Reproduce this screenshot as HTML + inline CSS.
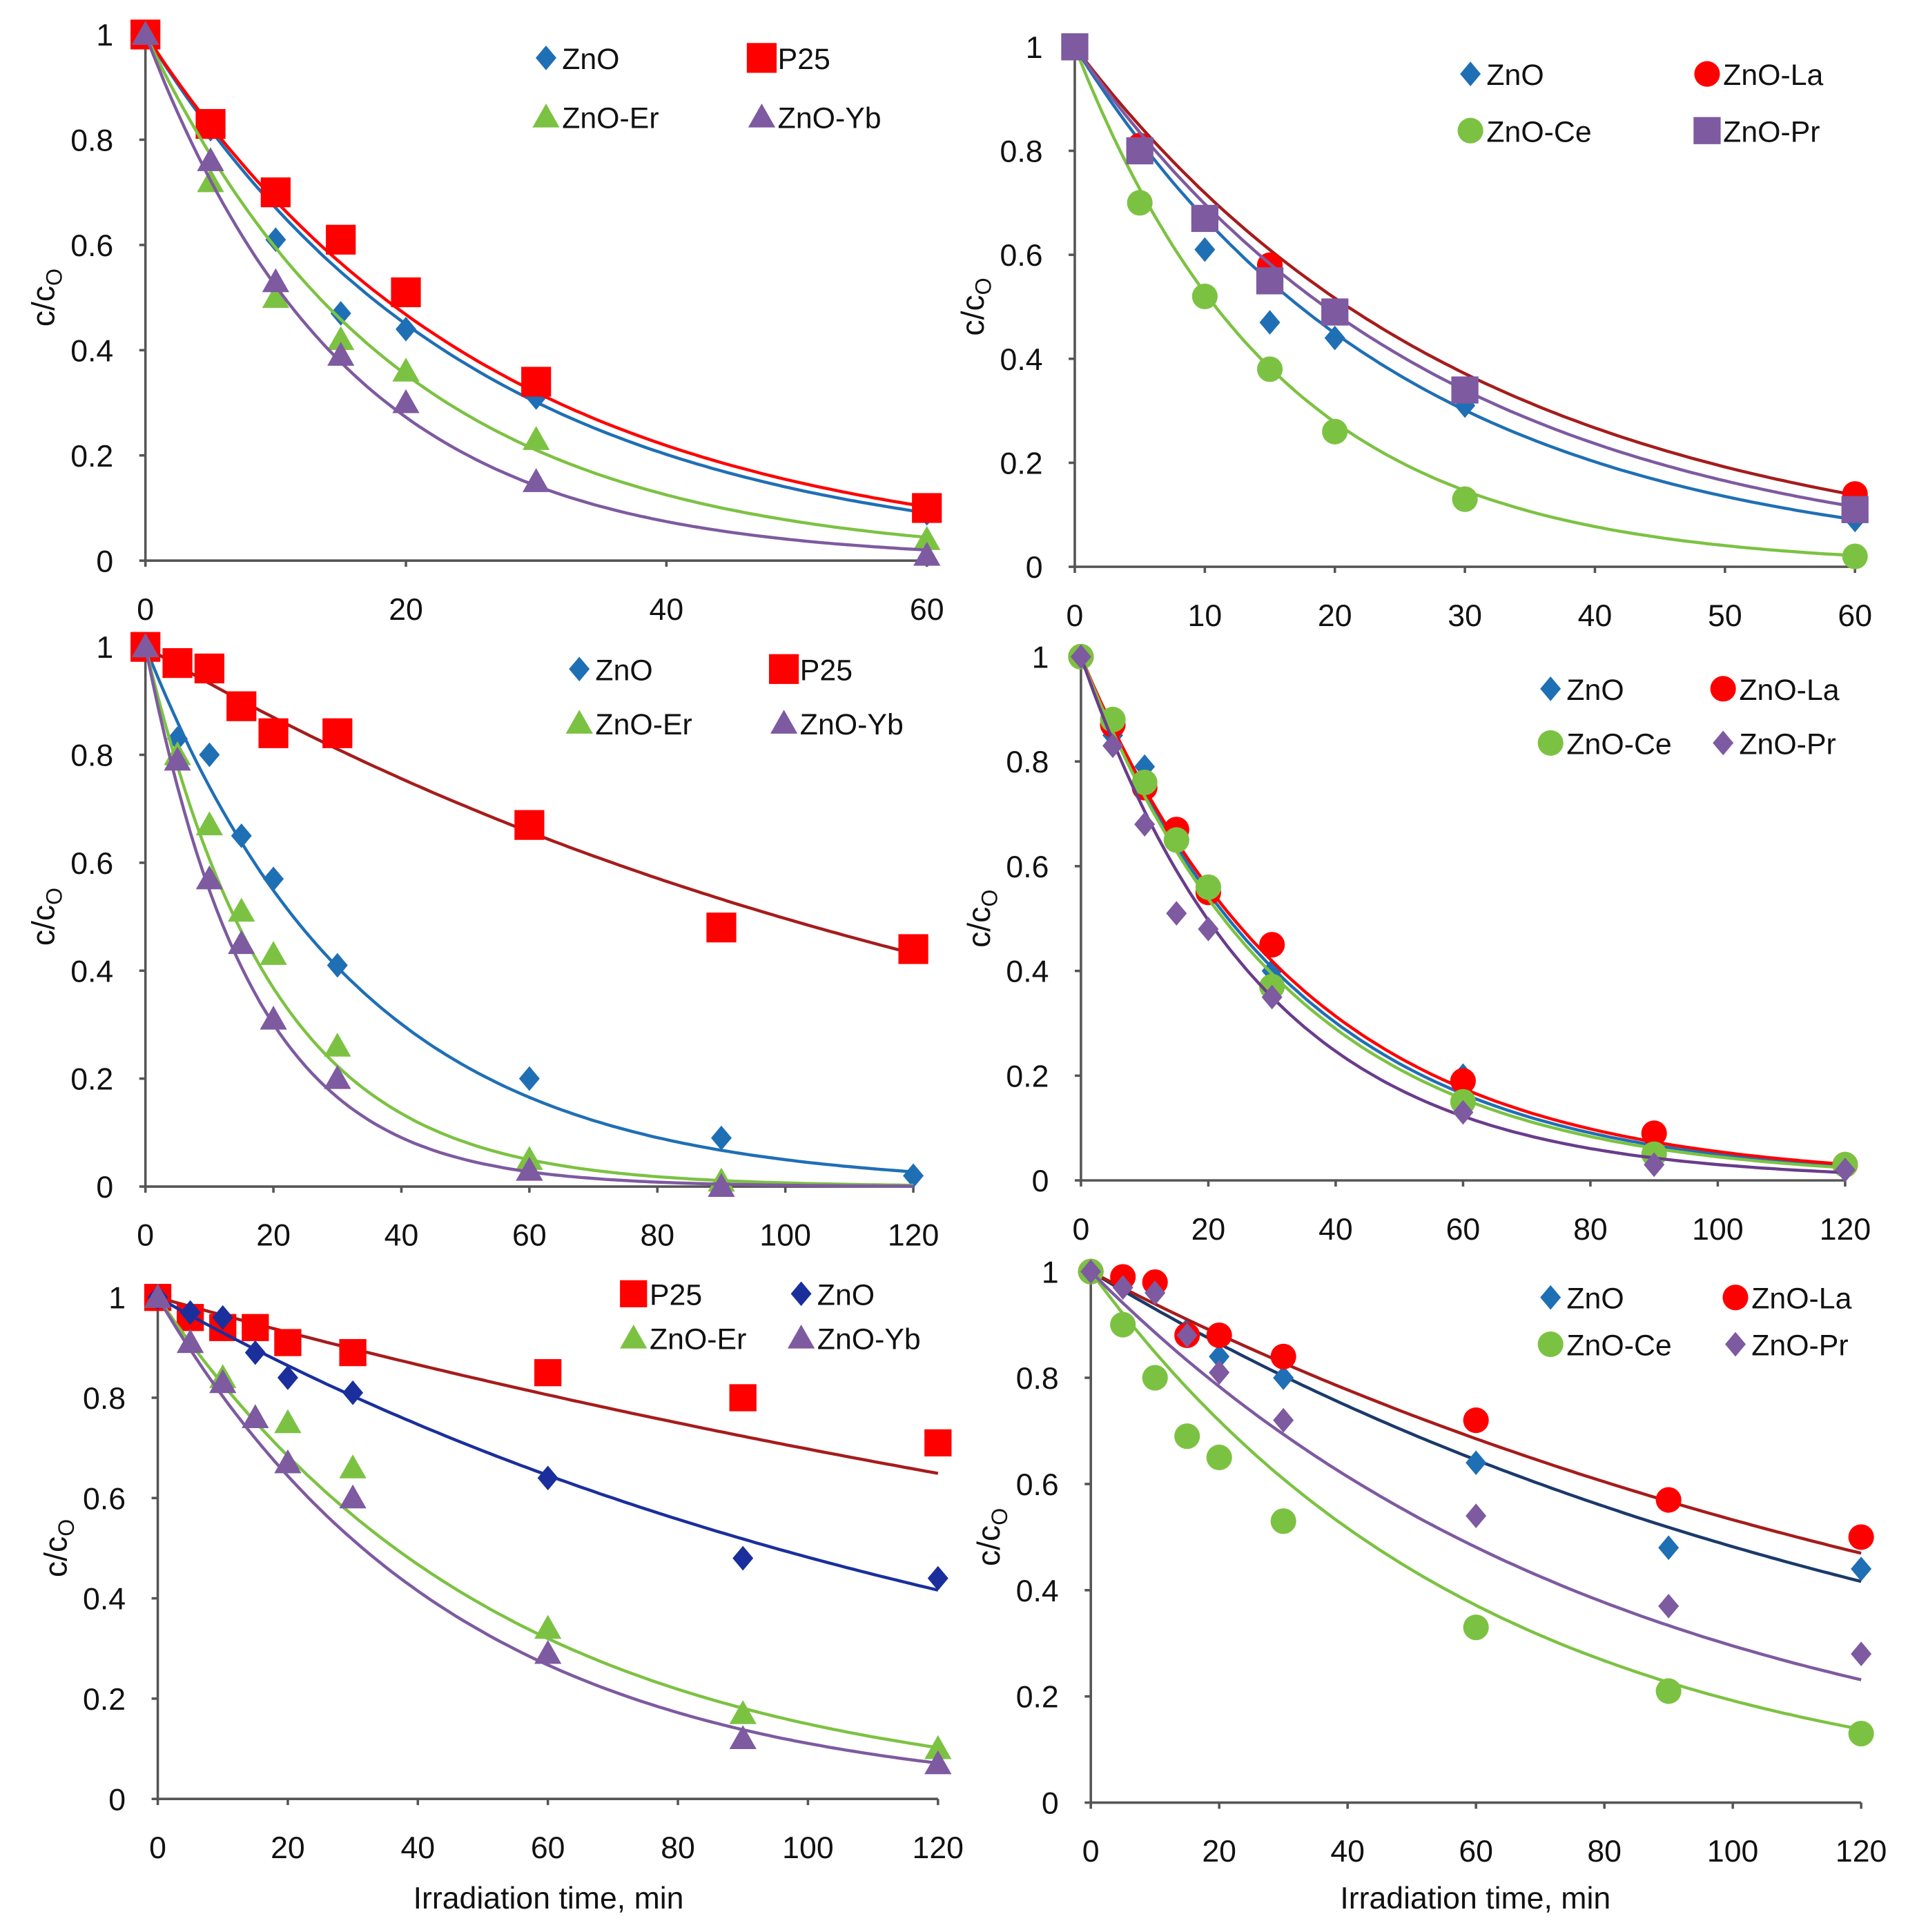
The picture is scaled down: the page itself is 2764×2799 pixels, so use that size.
<!DOCTYPE html>
<html><head><meta charset="utf-8"><style>
html,body{margin:0;padding:0;background:#fff;}
svg{display:block;font-family:"Liberation Sans",sans-serif;}
</style></head><body>
<svg id="chart" width="2764" height="2799" viewBox="0 0 1548 1568" preserveAspectRatio="none" xmlns="http://www.w3.org/2000/svg"></svg>
<script>
// ---- data ----
const t7 = [0,5,10,15,20,30,60];
const t9 = [0,5,10,15,20,30,60,90,120];
const p1ZnO = [1,0.82,0.61,0.47,0.44,0.31,0.09];
const p1P25 = [1,0.83,0.70,0.61,0.51,0.34,0.10];
const p1Er = [1,0.72,0.50,0.42,0.36,0.23,0.04];
const p1Yb = [1,0.76,0.53,0.39,0.30,0.15,0.01];
const p1K = [0.040,0.038,0.052,0.065];
const p2ZnO = [1,0.81,0.61,0.47,0.44,0.31,0.09];
const p2La = [1,0.81,0.67,0.58,0.49,0.34,0.14];
const p2Ce = [1,0.70,0.52,0.38,0.26,0.13,0.02];
const p2Pr = [1,0.80,0.67,0.55,0.49,0.34,0.11];
const p2K = [0.040,0.033,0.064,0.036];
const p3ZnO = [1,0.83,0.80,0.65,0.57,0.41,0.20,0.09,0.02];
const p3P25 = [1,0.97,0.96,0.89,0.84,0.84,0.67,0.48,0.44];
const p3Er = [1,0.80,0.67,0.51,0.43,0.26,0.05,0.01];
const p3Yb = [1,0.79,0.57,0.45,0.31,0.20,0.03,0.00];
const p3K = [0.030,0.007,0.050,0.060];
const p4ZnO = [1,0.85,0.79,0.66,0.55,0.40,0.20,0.06,0.03];
const p4La = [1,0.87,0.75,0.67,0.55,0.45,0.19,0.09,0.03];
const p4Ce = [1,0.88,0.76,0.65,0.56,0.37,0.15,0.05,0.03];
const p4Pr = [1,0.83,0.68,0.51,0.48,0.35,0.13,0.03,0.02];
const p4K = [0.030,0.029,0.031,0.035];
const p5P25 = [1,0.96,0.94,0.94,0.91,0.89,0.85,0.80,0.71];
const p5ZnO = [1,0.97,0.96,0.89,0.84,0.81,0.64,0.48,0.44];
const p5Er = [1,0.91,0.84,0.76,0.75,0.66,0.34,0.17,0.10];
const p5Yb = [1,0.91,0.83,0.76,0.67,0.60,0.29,0.12,0.07];
const p5K = [0.0036,0.0073,0.019,0.022];
const p6ZnO = [1,0.98,0.96,0.89,0.84,0.80,0.64,0.48,0.44];
const p6La = [1,0.99,0.98,0.88,0.88,0.84,0.72,0.57,0.50];
const p6Ce = [1,0.90,0.80,0.69,0.65,0.53,0.33,0.21,0.13];
const p6Pr = [1,0.97,0.96,0.88,0.81,0.72,0.54,0.37,0.28];
const p6K = [0.0073,0.0063,0.0165,0.0122];
const yTicks = [0,0.2,0.4,0.6,0.8,1];
const xTicks1 = [0,20,40,60];
const xTicks2 = [0,10,20,30,40,50,60];
const xTicks3 = [0,20,40,60,80,100,120];

const NS="http://www.w3.org/2000/svg";
const svg=document.getElementById('chart');
function el(tag,attrs,parent){const e=document.createElementNS(NS,tag);for(const k in attrs)e.setAttribute(k,attrs[k]);(parent||svg).appendChild(e);return e;}

const C={blue:'#1f6fb5',red:'#ff0000',green:'#7cc242',purple:'#7e5aa0',dblue:'#1a2f9c',dred:'#a61c1c',pline:'#6a3c8c'};

function marker(g,shape,cx,cy,col,s){
  let m;
  if(shape==='sq') m=el('rect',{x:cx-s*0.55,y:cy-s*0.55,width:s*1.1,height:s*1.1,fill:col},g);
  else if(shape==='di') m=el('polygon',{points:`${cx},${cy-s*0.5} ${cx+s*0.42},${cy} ${cx},${cy+s*0.5} ${cx-s*0.42},${cy}`,fill:col},g);
  else if(shape==='tr') m=el('polygon',{points:`${cx},${cy-s*0.55} ${cx+s*0.55},${cy+s*0.42} ${cx-s*0.55},${cy+s*0.42}`,fill:col},g);
  else m=el('circle',{cx:cx,cy:cy,r:s*0.52,fill:col},g);
  return m;
}

function panel(p){
  const g=el('g',{});
  
  
  const X=v=>p.x0+(v/p.xmax)*(p.x1-p.x0);
  const Y=v=>p.y0-(v)*(p.y0-p.y1);
  const ax=el('line',{x1:p.x0,y1:p.y0,x2:p.x0,y2:p.y1,stroke:'#555','stroke-width':2},g);
  
  
  const bx=el('line',{x1:p.x0,y1:p.y0,x2:p.x1,y2:p.y0,stroke:'#555','stroke-width':2},g);
  
  
  yTicks.forEach(v=>{
    el('line',{x1:p.x0-5,y1:Y(v),x2:p.x0,y2:Y(v),stroke:'#555','stroke-width':2},g);
    const t=el('text',{x:p.x0-26,y:Y(v)+9,'text-anchor':'end','font-size':25,fill:'#111'},g);
    t.textContent=String(v);
    
    
  });
  p.xt.forEach(v=>{
    el('line',{x1:X(v),y1:p.y0,x2:X(v),y2:p.y0+5,stroke:'#555','stroke-width':2},g);
    const t=el('text',{x:X(v),y:p.y0+48,'text-anchor':'middle','font-size':25,fill:'#111'},g);
    t.textContent=String(v);
    
    
  });
  const yt=el('text',{transform:`translate(${p.x0-74},${(p.y0+p.y1)/2}) rotate(-90)`,'text-anchor':'middle','font-size':26,fill:'#111'},g);
  yt.innerHTML='c/c<tspan font-size="18" dy="6">O</tspan>';
  
  
  p.series.forEach((s,i)=>{
    const pts=[];
    for(let k=0;k<=120;k++){const tt=p.xmax*k/120;pts.push(`${X(tt).toFixed(1)},${Y(Math.exp(-p.k[i]*tt)).toFixed(1)}`);}
    const ln=el('polyline',{points:pts.join(' '),fill:'none',stroke:s.lc,'stroke-width':2.5},g);
    
    
    s.v.forEach((v,j)=>{
      const m=marker(g,s.sh,X(p.t[j]),Y(v),s.c,s.sz||20);
      
      
    });
    const lx=p.leg[0]+(i%2)*p.leg[2], ly=p.leg[1]+Math.floor(i/2)*p.leg[3];
    const lm=marker(g,s.sh,lx,ly,s.c,s.sz||20);
    
    
    const lt=el('text',{x:lx+13,y:ly+9,'font-size':24,fill:'#111'},g);
    lt.textContent=s.label;
    
    
  });
}

panel({name:'panel-a',x0:118,x1:752,y0:455,y1:28,xmax:60,t:t7,xt:xTicks1,k:p1K,leg:[443,47,175,48],series:[
 {label:'ZnO',v:p1ZnO,sh:'di',c:C.blue,lc:C.blue},{label:'P25',v:p1P25,sh:'sq',c:C.red,lc:C.red,sz:22},
 {label:'ZnO-Er',v:p1Er,sh:'tr',c:C.green,lc:C.green},{label:'ZnO-Yb',v:p1Yb,sh:'tr',c:C.purple,lc:C.purple}]});
panel({name:'panel-b',x0:872,x1:1505,y0:460,y1:38,xmax:60,t:t7,xt:xTicks2,k:p2K,leg:[1193,60,192,46],series:[
 {label:'ZnO',v:p2ZnO,sh:'di',c:C.blue,lc:C.blue},{label:'ZnO-La',v:p2La,sh:'ci',c:C.red,lc:C.dred},
 {label:'ZnO-Ce',v:p2Ce,sh:'ci',c:C.green,lc:C.green},{label:'ZnO-Pr',v:p2Pr,sh:'sq',c:C.purple,lc:C.purple}]});
panel({name:'panel-c',x0:118,x1:741,y0:963,y1:525,xmax:120,t:t9,xt:xTicks3,k:p3K,leg:[470,543,166,44],series:[
 {label:'ZnO',v:p3ZnO,sh:'di',c:C.blue,lc:C.blue},{label:'P25',v:p3P25,sh:'sq',c:C.red,lc:C.dred,sz:22},
 {label:'ZnO-Er',v:p3Er,sh:'tr',c:C.green,lc:C.green},{label:'ZnO-Yb',v:p3Yb,sh:'tr',c:C.purple,lc:C.purple}]});
panel({name:'panel-d',x0:877,x1:1497,y0:958,y1:533,xmax:120,t:t9,xt:xTicks3,k:p4K,leg:[1258,559,140,44],series:[
 {label:'ZnO',v:p4ZnO,sh:'di',c:C.blue,lc:C.blue},{label:'ZnO-La',v:p4La,sh:'ci',c:C.red,lc:C.red},
 {label:'ZnO-Ce',v:p4Ce,sh:'ci',c:C.green,lc:C.green},{label:'ZnO-Pr',v:p4Pr,sh:'di',c:C.purple,lc:C.pline}]});
panel({name:'panel-e',x0:128,x1:761,y0:1460,y1:1053,xmax:120,t:t9,xt:xTicks3,k:p5K,leg:[514,1050,136,36],series:[
 {label:'P25',v:p5P25,sh:'sq',c:C.red,lc:C.dred},{label:'ZnO',v:p5ZnO,sh:'di',c:C.dblue,lc:C.dblue},
 {label:'ZnO-Er',v:p5Er,sh:'tr',c:C.green,lc:C.green},{label:'ZnO-Yb',v:p5Yb,sh:'tr',c:C.purple,lc:C.purple}]});
panel({name:'panel-f',x0:885,x1:1510,y0:1463,y1:1032,xmax:120,t:t9,xt:xTicks3,k:p6K,leg:[1258,1053,150,38],series:[
 {label:'ZnO',v:p6ZnO,sh:'di',c:C.blue,lc:'#1a3a6a'},{label:'ZnO-La',v:p6La,sh:'ci',c:C.red,lc:C.dred},
 {label:'ZnO-Ce',v:p6Ce,sh:'ci',c:C.green,lc:C.green},{label:'ZnO-Pr',v:p6Pr,sh:'di',c:C.purple,lc:C.purple}]});

[[445,'x-axis-title-left'],[1197,'x-axis-title-right']].forEach(a=>{
  const t=el('text',{x:a[0],y:1549,'text-anchor':'middle','font-size':25,fill:'#111'});
  t.textContent='Irradiation time, min';
  
  
});
</script>
</body></html>
